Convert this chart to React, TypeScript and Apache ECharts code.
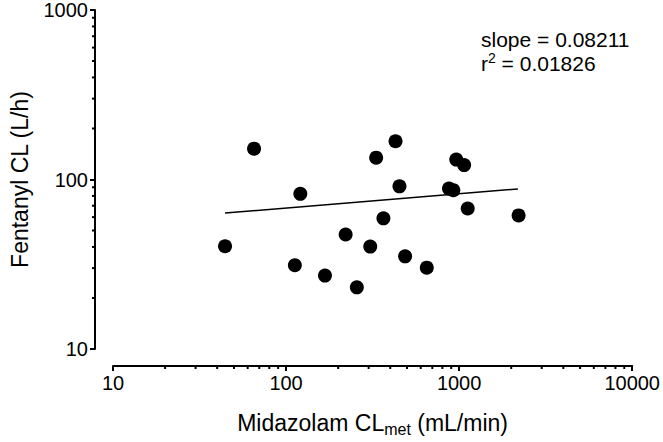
import React, { useEffect, useRef } from "react";
import * as echarts from "echarts";

// Data
const midazolamCL = [44.4, 65.3, 120.9, 112.4, 167.8, 220.9, 256.4, 306.4, 331.5, 365.2, 429, 452.1, 487.3, 650.1, 873.6, 925.6, 962.7, 1069, 1121, 2206];
const fentanylCL = [40.4, 152, 82.3, 31.2, 27.1, 47.4, 23.1, 40.2, 134.5, 59, 168, 91.1, 35.2, 30.2, 88.4, 86.5, 131, 121.6, 67.4, 61.4];

// Regression line end points (log-log fit)
const fitLineX = [44.4, 2186];
const fitLineY = [63.4, 88.0];

// Minor tick positions
const xMinorTicks = [20, 30, 40, 50, 60, 70, 80, 90, 200, 300, 400, 500, 600, 700, 800, 900, 2000, 3000, 4000, 5000, 6000, 7000, 8000, 9000];
const yMinorTicks = [20, 30, 40, 50, 60, 70, 80, 90, 200, 300, 400, 500, 600, 700, 800, 900];

const slopeText = "slope = 0.08211";
const r2Value = "0.01826";

const FONT = "'Liberation Sans', Arial, Helvetica, sans-serif";
const X_OFFSET = 17;
const Y_OFFSET = 18;

export default function App() {
  const ref = useRef<HTMLDivElement>(null);
  useEffect(() => {
    if (!ref.current) return;
    const chart = echarts.init(ref.current, undefined, { renderer: "svg" });
    const scatterData = midazolamCL.map((x, i) => [x, fentanylCL[i]]);
    const lineData = fitLineX.map((x, i) => [x, fitLineY[i]]);
    const fmt = (v: number) => String(Math.round(v));
    chart.setOption({
      animation: false,
      backgroundColor: "#fff",
      grid: { left: 107, right: 29, top: 8, bottom: 87 },
      xAxis: {
        type: "log",
        logBase: 10,
        min: 10,
        max: 10000,
        offset: X_OFFSET,
        name: "Midazolam CL{sub|met} (mL/min)",
        nameLocation: "middle",
        nameGap: 43,
        nameTextStyle: {
          fontFamily: FONT,
          fontSize: 23,
          color: "#000",
          rich: {
            sub: { fontFamily: FONT, fontSize: 16, color: "#000", padding: [12, 0, 0, 0] },
          },
        },
        axisLine: { lineStyle: { color: "#000", width: 2 } },
        axisTick: { inside: false, length: 5, lineStyle: { color: "#000", width: 2 } },
        axisLabel: { fontFamily: FONT, fontSize: 20, color: "#000", margin: 7, formatter: fmt },
        splitLine: { show: false },
        minorTick: { show: false },
      },
      yAxis: {
        type: "log",
        logBase: 10,
        min: 10,
        max: 1000,
        offset: Y_OFFSET,
        name: "Fentanyl CL (L/h)",
        nameLocation: "middle",
        nameGap: 64,
        nameTextStyle: { fontFamily: FONT, fontSize: 23, color: "#000" },
        axisLine: { lineStyle: { color: "#000", width: 2 } },
        axisTick: { inside: false, length: 5, lineStyle: { color: "#000", width: 2 } },
        axisLabel: { fontFamily: FONT, fontSize: 20, color: "#000", margin: 7, formatter: fmt },
        splitLine: { show: false },
        minorTick: { show: false },
      },
      graphic: [
        {
          type: "text",
          left: 481,
          top: 29,
          style: { text: slopeText, font: `21px ${FONT}`, fill: "#000" },
        },
        {
          type: "text",
          left: 481,
          top: 51,
          style: {
            text: `r{sup|2} = ${r2Value}`,
            fontFamily: FONT,
            fontSize: 21,
            fill: "#000",
            rich: {
              sup: { fontFamily: FONT, fontSize: 14, fill: "#000", padding: [0, 0, 10, 0] },
            },
          },
        },
      ],
      series: [
        {
          type: "custom",
          silent: true,
          data: xMinorTicks.map((v) => [v, 10]),
          renderItem: (params: any, api: any) => {
            const p = api.coord([api.value(0), api.value(1)]);
            const y0 = p[1] + X_OFFSET;
            return {
              type: "line",
              shape: { x1: p[0], y1: y0, x2: p[0], y2: y0 + 3 },
              style: { stroke: "#000", lineWidth: 2 },
            };
          },
        },
        {
          type: "custom",
          silent: true,
          data: yMinorTicks.map((v) => [10, v]),
          renderItem: (params: any, api: any) => {
            const p = api.coord([api.value(0), api.value(1)]);
            const x0 = p[0] - Y_OFFSET;
            return {
              type: "line",
              shape: { x1: x0, y1: p[1], x2: x0 - 3, y2: p[1] },
              style: { stroke: "#000", lineWidth: 2 },
            };
          },
        },
        {
          type: "line",
          data: lineData,
          symbol: "none",
          lineStyle: { color: "#000", width: 1.5 },
          z: 3,
        },
        {
          type: "scatter",
          data: scatterData,
          symbol: "circle",
          symbolSize: 14,
          itemStyle: { color: "#000", opacity: 1 },
          z: 4,
        },
      ],
    });
    return () => chart.dispose();
  }, []);
  return (
    <div
      ref={ref}
      style={{ position: "fixed", left: 0, top: 0, width: 663, height: 442, background: "#fff" }}
    />
  );
}
